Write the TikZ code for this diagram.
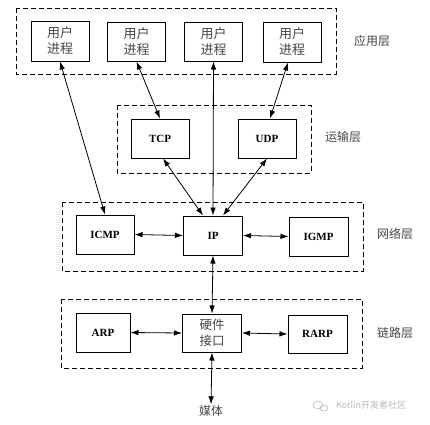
\documentclass[tikz,border=0pt]{standalone}
\usepackage{fontspec}
\setmainfont{Liberation Serif}
\newfontfamily\cjk{Noto Sans CJK SC}
\usetikzlibrary{arrows.meta}
\definecolor{txtgray}{RGB}{70,70,70}
\definecolor{wmgray}{RGB}{185,185,185}
\tikzset{
  proto/.style={draw, line width=1pt, minimum width=58pt, minimum height=39pt, inner sep=0pt, font=\fontsize{11}{12}\selectfont\bfseries},
  proc/.style={proto, font=\cjk\fontsize{13}{16}\selectfont\color{txtgray}, align=center},
  layerbox/.style={draw, line width=0.9pt, dash pattern=on 5pt off 3pt},
  layerlbl/.style={font=\cjk\fontsize{12}{14}\selectfont, text=txtgray},
  conn/.style={line width=0.8pt, {Latex[length=8pt,width=5.5pt]}-{Latex[length=8pt,width=5.5pt]}}
}
\begin{document}
\begin{tikzpicture}[x=1pt,y=-1pt]
\useasboundingbox[fill=white] (0,0) rectangle (430,424);
% layer boxes
\draw[layerbox] (16,8) rectangle (336,74);
\draw[layerbox] (117,105) rectangle (311,173);
\draw[layerbox] (62,202) rectangle (363,271);
\draw[layerbox] (61,299) rectangle (362,368);
% layer labels
\node[layerlbl] (lapp) at (372,41) {应用层};
\node[layerlbl] (ltrans) at (343,137) {运输层};
\node[layerlbl] (lnet) at (395,234) {网络层};
\node[layerlbl] (llink) at (395,333) {链路层};
% user processes
\node[proc, minimum height=40pt] (u1) at (60,41) {用户\\进程};
\node[proc] (u2) at (136.5,41.5) {用户\\进程};
\node[proc] (u3) at (213.5,41.5) {用户\\进程};
\node[proc, minimum height=40pt] (u4) at (292,42) {用户\\进程};
% transport
\node[proto] (tcp) at (160,138.5) {TCP};
\node[proto] (udp) at (267,138.5) {UDP};
% network
\node[proto] (icmp) at (105,234.5) {ICMP};
\node[proto, minimum width=59pt] (ip) at (213,235.5) {IP};
\node[proto, minimum width=59pt] (igmp) at (318.5,236.5) {IGMP};
% link
\node[proto, minimum width=54pt] (arp) at (103,332.5) {ARP};
\node[proc, minimum width=59pt, minimum height=38pt, font=\cjk\fontsize{12.5}{16}\selectfont\color{txtgray}] (hw) at (212,333) {硬件\\接口};
\node[proto, minimum width=59pt, minimum height=38pt] (rarp) at (317.5,334) {RARP};
% media
\node[font=\cjk\fontsize{12}{14}\selectfont, text=txtgray, inner sep=1pt] (media) at (211,411) {媒体};
% connectors
\draw[conn] (u1.south) -- (icmp.north);
\draw[conn] (u2.south) -- (tcp.north);
\draw[conn] (u3.south) -- (ip.north);
\draw[conn] ([xshift=-4pt]u4.south) -- ([xshift=3pt]udp.north);
\draw[conn] ([xshift=3pt]tcp.south) -- ([xshift=-10pt]ip.north);
\draw[conn] (udp.south) -- ([xshift=10pt]ip.north);
\draw[conn] (icmp.east) -- (ip.west);
\draw[conn] (ip.east) -- (igmp.west);
\draw[conn] (ip.south) -- (hw.north);
\draw[conn] (arp.east) -- (hw.west);
\draw[conn] (hw.east) -- (rarp.west);
\draw[conn] (hw.south) -- (media.north);
% watermark
\draw[wmgray, line width=0.6pt] (318,405) ellipse (5pt and 4pt);
\draw[wmgray, line width=0.6pt] (324,408) ellipse (4pt and 3pt);
\node[font=\cjk\fontsize{9}{10}\selectfont, text=wmgray, anchor=west, inner sep=0pt] (wm) at (336,405) {Kotlin开发者社区};
\end{tikzpicture}
\end{document}
